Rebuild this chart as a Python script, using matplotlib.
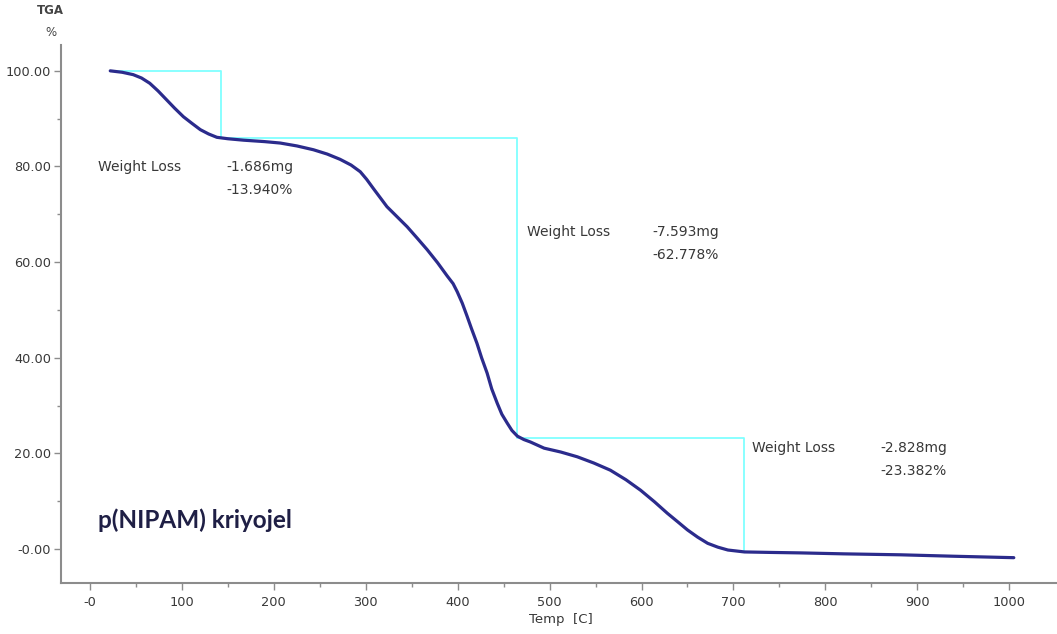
import matplotlib
matplotlib.use("Agg")
import matplotlib.pyplot as plt
from matplotlib.ticker import FixedLocator, FixedFormatter

# TGA curve, temperature in C and remaining weight in %
temp = [22, 35, 47, 56, 65, 74, 83.5, 92, 101.6, 111, 120, 129, 138, 150, 167,
        190, 207, 225, 243, 258, 272, 284, 294, 301, 308.6, 316, 323, 334, 345,
        356, 366.8, 378, 388.6, 395, 399.5, 405, 410, 415, 421, 426, 432, 437,
        443, 448, 454, 459, 465, 472, 479, 494, 512, 530, 548, 566, 583, 599,
        614, 628, 640, 650, 661, 672, 683, 694, 703, 712, 740, 773, 820, 882,
        940, 1005]
weight = [100.0, 99.7, 99.2, 98.5, 97.4, 95.8, 93.9, 92.2, 90.4, 89.0, 87.7,
          86.8, 86.1, 85.8, 85.5, 85.2, 84.9, 84.3, 83.5, 82.6, 81.5, 80.3, 78.9,
          77.3, 75.3, 73.4, 71.6, 69.5, 67.4, 65.0, 62.6, 59.9, 57.1, 55.5, 53.8,
          51.4, 48.8, 46.1, 43.0, 40.0, 36.8, 33.5, 30.5, 28.2, 26.3, 24.8, 23.6,
          22.9, 22.4, 21.1, 20.3, 19.3, 18.0, 16.5, 14.5, 12.3, 9.9, 7.5, 5.6,
          4.0, 2.5, 1.2, 0.4, -0.2, -0.4, -0.6, -0.7, -0.8, -1.0, -1.2, -1.5, -1.8]

# weight-loss steps: end temperature, mass lost and percentage lost
step_end = [142, 464, 712]
loss_mg = [-1.686, -7.593, -2.828]
loss_pct = [-13.940, -62.778, -23.382]
# where each "Weight Loss" block sits (temperature, weight)
label_pos = [(8.7, 79.9), (475, 66.3), (720, 21.1)]
value_dx = [140, 137, 140]

x_ticks = [0, 100, 200, 300, 400, 500, 600, 700, 800, 900, 1000]
x_labels = ["-0", "100", "200", "300", "400", "500", "600", "700", "800", "900", "1000"]
y_ticks = [0, 20, 40, 60, 80, 100]
y_labels = ["-0.00", "20.00", "40.00", "60.00", "80.00", "100.00"]

txt = "#383838"
axis_col = "#8c8c8c"
plt.rcParams["font.family"] = ["DejaVu Sans"]

fig = plt.figure(figsize=(10.57, 6.34), dpi=100)
ax = fig.add_axes([0.0577, 0.0804, 0.9423, 0.8486])

# cyan step outline built from the reported percentages
levels = [100.0]
for p in loss_pct:
    levels.append(levels[-1] + p)
sx = [temp[0]]
sy = [levels[0]]
for i, te in enumerate(step_end):
    sx += [te, te]
    sy += [levels[i], levels[i + 1]]
ax.plot(sx, sy, color="#80ffff", lw=1.3, zorder=2)

ax.plot(temp, weight, color="#2b2b8c", lw=2.3, zorder=3,
        solid_capstyle="round", solid_joinstyle="round")

for (lx, ly), dx, mg, pc in zip(label_pos, value_dx, loss_mg, loss_pct):
    ax.text(lx, ly, "Weight Loss", fontsize=10, color=txt, va="center", ha="left")
    ax.text(lx + dx, ly, f"{mg:.3f}mg", fontsize=10, color=txt, va="center", ha="left")
    ax.text(lx + dx, ly - 4.8, f"{pc:.3f}%", fontsize=10, color=txt, va="center", ha="left")

ax.text(8.7, 6.1, "p(NIPAM) kriyojel", fontsize=17.5, fontweight="bold",
        color="#1f1f45", family=["Lato", "DejaVu Sans"], va="center", ha="left")

ax.set_xlim(-31.6, 1052)
ax.set_ylim(-7.1, 105.4)

ax.xaxis.set_major_locator(FixedLocator(x_ticks))
ax.xaxis.set_major_formatter(FixedFormatter(x_labels))
ax.xaxis.set_minor_locator(FixedLocator([t + 50 for t in x_ticks[:-1]]))
ax.yaxis.set_major_locator(FixedLocator(y_ticks))
ax.yaxis.set_major_formatter(FixedFormatter(y_labels))
ax.yaxis.set_minor_locator(FixedLocator([t + 10 for t in y_ticks[:-1]]))

for side in ("top", "right"):
    ax.spines[side].set_visible(False)
for side in ("left", "bottom"):
    ax.spines[side].set_color(axis_col)
    ax.spines[side].set_linewidth(1.5)

ax.tick_params(which="major", length=5, width=1, color=axis_col,
               labelsize=9.3, labelcolor=txt, pad=2)
ax.tick_params(which="minor", length=3, width=1, color=axis_col)
ax.tick_params(axis="x", which="major", pad=4)

fig.text(561 / 1057, 1 - 619 / 634, "Temp  [C]", fontsize=9.5, color=txt,
         ha="center", va="center")
fig.text(50 / 1057, 1 - 11 / 634, "TGA", fontsize=8.5, fontweight="bold",
         color="#444444", ha="center", va="center")
fig.text(51 / 1057, 1 - 32 / 634, "%", fontsize=8.5, color="#444444",
         ha="center", va="center")

fig.savefig("out.png", dpi=100)
